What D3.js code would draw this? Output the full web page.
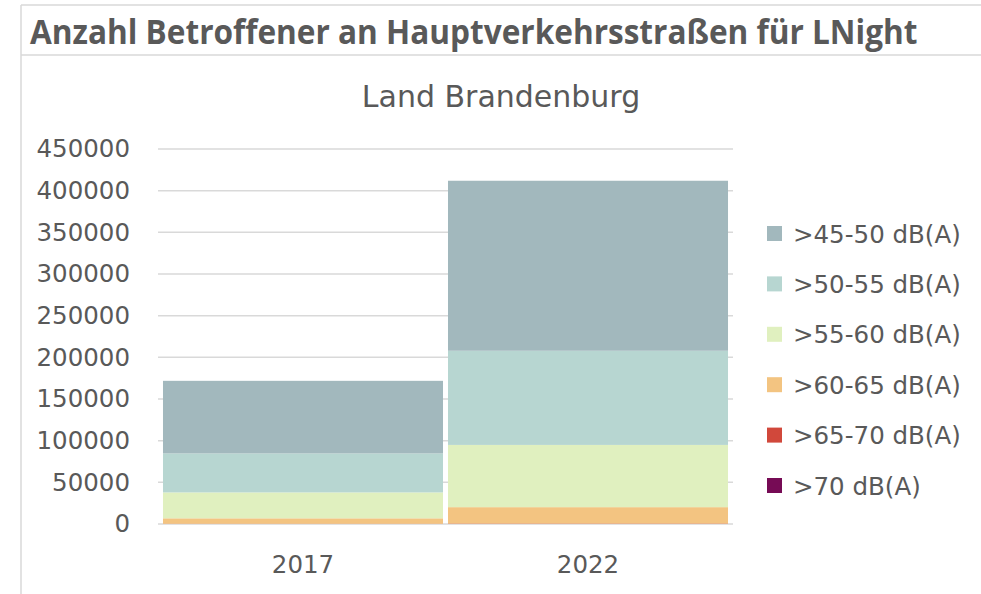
<!DOCTYPE html>
<html lang="de">
<head>
<meta charset="UTF-8"/>
<title>Anzahl Betroffener LNight</title>
<script src="https://d3js.org/d3.v7.min.js"></script>
<style>
  body { margin: 0; background: #fff; }
  svg text { font-family: "DejaVu Sans", sans-serif; fill: #595959; }
</style>
</head>
<body>
<script>
var w = 981;
var h = 594;

var years = ["2017", "2022"];
var classes = [">45-50 dB(A)", ">50-55 dB(A)", ">55-60 dB(A)", ">60-65 dB(A)", ">65-70 dB(A)", ">70 dB(A)"];
var colors = ["#a2b8bd", "#b7d6d1", "#e0f0bf", "#f3c481", "#d1483b", "#760b55"];

// values per class, [2017, 2022]
var v45_50 = [87100, 204000];
var v50_55 = [46800, 113000];
var v55_60 = [31100, 74700];
var v60_65 = [6500, 19700];
var v65_70 = [300, 500];
var v70 = [0, 0];

var yTicks = [0, 50000, 100000, 150000, 200000, 250000, 300000, 350000, 400000, 450000];

var seriesVals = [v45_50, v50_55, v55_60, v60_65, v65_70, v70];

// rows for d3.stack, highest class stacked at the bottom
var rows = years.map(function(y, i) {
    var r = { year: y };
    classes.forEach(function(c, k) { r[c] = seriesVals[k][i]; });
    return r;
});

var stackOrder = classes.slice().reverse();
var stacked = d3.stack().keys(stackOrder)(rows);

var plot = { left: 158, right: 733, top: 149, bottom: 524 };

var x = d3.scaleBand()
    .domain(years)
    .range([plot.left, plot.right])
    .paddingInner(0.0175)
    .paddingOuter(0.0175);

var y = d3.scaleLinear()
    .domain([0, 450000])
    .range([plot.bottom, plot.top]);

var color = d3.scaleOrdinal().domain(classes).range(colors);

var svg = d3.select("body").append("svg")
    .attr("width", w)
    .attr("height", h);

/* frame and title */
svg.append("line").attr("x1", 21).attr("x2", w).attr("y1", 5).attr("y2", 5)
    .attr("stroke", "#d9d9d9").attr("stroke-width", 1.5);
svg.append("line").attr("x1", 21).attr("x2", w).attr("y1", 55).attr("y2", 55)
    .attr("stroke", "#d9d9d9").attr("stroke-width", 1.5);
svg.append("line").attr("x1", 21).attr("x2", 21).attr("y1", 5).attr("y2", h)
    .attr("stroke", "#d9d9d9").attr("stroke-width", 1.5);

// title is squeezed horizontally to the narrow width of the original font
var title = svg.append("text")
    .attr("x", 0)
    .attr("y", 0)
    .style("font-family", "'Open Sans', sans-serif")
    .attr("font-size", "34px")
    .attr("font-weight", "bold")
    .text("Anzahl Betroffener an Hauptverkehrsstraßen für LNight");
var titleW = title.node().getComputedTextLength();
title.attr("transform", "translate(30,44) scale(" + (888 / titleW) + ",1)");

svg.append("text")
    .attr("x", 501)
    .attr("y", 107)
    .attr("text-anchor", "middle")
    .attr("font-size", "30px")
    .text("Land Brandenburg");

/* gridlines */
svg.append("g")
    .selectAll("line")
    .data(yTicks)
    .enter()
    .append("line")
    .attr("x1", plot.left)
    .attr("x2", plot.right)
    .attr("y1", function(d) { return y(d); })
    .attr("y2", function(d) { return y(d); })
    .attr("stroke", "#d9d9d9")
    .attr("stroke-width", 1.5);

/* y axis labels */
var yAxis = svg.append("g")
    .attr("transform", "translate(" + (plot.left - 12) + ",0)")
    .call(d3.axisLeft(y).tickValues(yTicks).tickSize(0).tickPadding(16).tickFormat(d3.format("d")));
yAxis.select(".domain").remove();
yAxis.selectAll("text")
    .attr("font-size", "24.5px")
    .style("font-family", "'DejaVu Sans', sans-serif")
    .attr("fill", "#595959");

/* x axis labels */
var xAxis = svg.append("g")
    .attr("transform", "translate(0," + plot.bottom + ")")
    .call(d3.axisBottom(x).tickSize(0).tickPadding(32));
xAxis.select(".domain").remove();
xAxis.selectAll("text")
    .attr("font-size", "24.5px")
    .style("font-family", "'DejaVu Sans', sans-serif")
    .attr("fill", "#595959");

/* stacked bars */
svg.append("g")
    .selectAll("g")
    .data(stacked)
    .enter()
    .append("g")
    .attr("fill", function(d) { return color(d.key); })
    .selectAll("rect")
    .data(function(d) { return d; })
    .enter()
    .append("rect")
    .attr("x", function(d) { return x(d.data.year); })
    .attr("y", function(d) { return y(d[1]); })
    .attr("width", x.bandwidth())
    .attr("height", function(d) { return y(d[0]) - y(d[1]); });

/* legend */
var legend = svg.append("g")
    .selectAll("g")
    .data(classes)
    .enter()
    .append("g")
    .attr("transform", function(d, i) { return "translate(767," + (234 + i * 50.4) + ")"; });

legend.append("rect")
    .attr("x", 0)
    .attr("y", -8)
    .attr("width", 15)
    .attr("height", 15)
    .attr("fill", function(d) { return color(d); });

legend.append("text")
    .attr("x", 26)
    .attr("y", 0)
    .attr("dy", "0.35em")
    .attr("font-size", "24.5px")
    .text(function(d) { return d; });
</script>
</body>
</html>
